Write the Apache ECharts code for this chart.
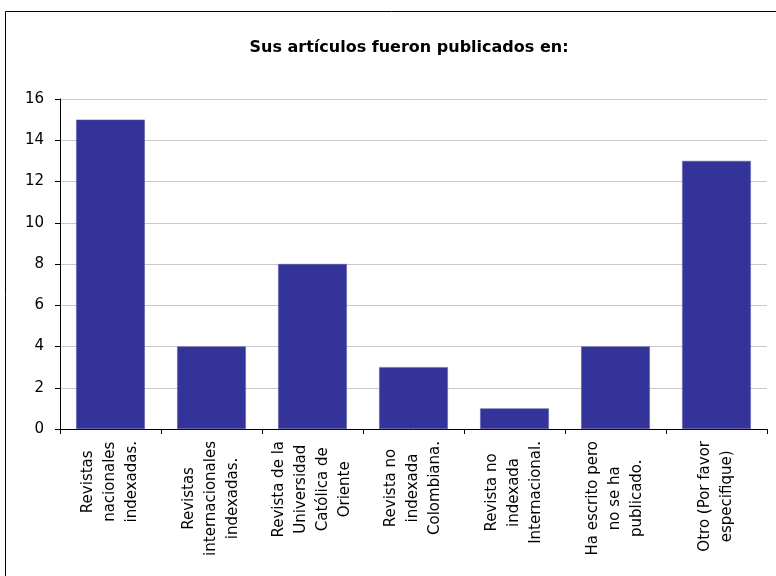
<!DOCTYPE html>
<html>
<head>
<meta charset="utf-8">
<script src="https://cdn.jsdelivr.net/npm/echarts@6/dist/echarts.min.js"></script>
<style>
html,body{margin:0;padding:0;background:#fff;}
#chart{width:776px;height:576px;}
</style>
</head>
<body>
<div id="chart"></div>
<script>
const title = 'Sus artículos fueron publicados en:';
const categories = [
  'Revistas\nnacionales\nindexadas.',
  'Revistas\ninternacionales\nindexadas.',
  'Revista de la\nUniversidad\nCatólica de\nOriente',
  'Revista no\nindexada\nColombiana.',
  'Revista no\nindexada\nInternacional.',
  'Ha escrito pero\nno se ha\npublicado.',
  'Otro (Por favor\nespecifique)'
];
const values = [15, 4, 8, 3, 1, 4, 13];
const yTicks = [0, 2, 4, 6, 8, 10, 12, 14, 16];

const FONT = 'DejaVu Sans';
const chart = echarts.init(document.getElementById('chart'));
chart.setOption({
  animation: false,
  backgroundColor: '#fff',
  title: {
    text: title,
    left: 404,
    textAlign: 'center',
    top: 35,
    textStyle: {fontFamily: FONT, fontSize: 16, fontWeight: 'bold', color: '#000'}
  },
  graphic: [{
    type: 'rect',
    shape: {x: 5.5, y: 11.5, width: 800, height: 600},
    style: {fill: null, stroke: '#000', lineWidth: 1},
    silent: true
  }],
  grid: {left: 60, right: 9, top: 99, height: 330, containLabel: false},
  xAxis: {
    type: 'category',
    data: categories,
    axisLine: {lineStyle: {color: '#000', width: 1}},
    axisTick: {show: true, length: 5, lineStyle: {color: '#000'}, alignWithLabel: false},
    axisLabel: {
      rotate: 90,
      margin: 12,
      interval: 0,
      color: '#000',
      fontFamily: FONT,
      fontSize: 15,
      lineHeight: 22,
      formatter: function (v) {
        return v.split('\n').map(function (s) { return '{c|' + s + '}'; }).join('\n');
      },
      rich: {c: {align: 'center', fontFamily: FONT, fontSize: 15, lineHeight: 22, color: '#000'}}
    }
  },
  yAxis: {
    type: 'value',
    min: yTicks[0],
    max: yTicks[yTicks.length - 1],
    interval: 2,
    axisLine: {show: true, lineStyle: {color: '#000', width: 1}},
    axisTick: {show: true, length: 5, lineStyle: {color: '#000'}},
    axisLabel: {margin: 16, color: '#000', fontFamily: FONT, fontSize: 15},
    splitLine: {show: true, lineStyle: {color: '#c8c8c8', width: 1}}
  },
  series: [{
    type: 'bar',
    data: values,
    barCategoryGap: '32%',
    itemStyle: {color: '#333399', borderColor: '#5c5cad', borderWidth: 0.5}
  }]
});
</script>
</body>
</html>
